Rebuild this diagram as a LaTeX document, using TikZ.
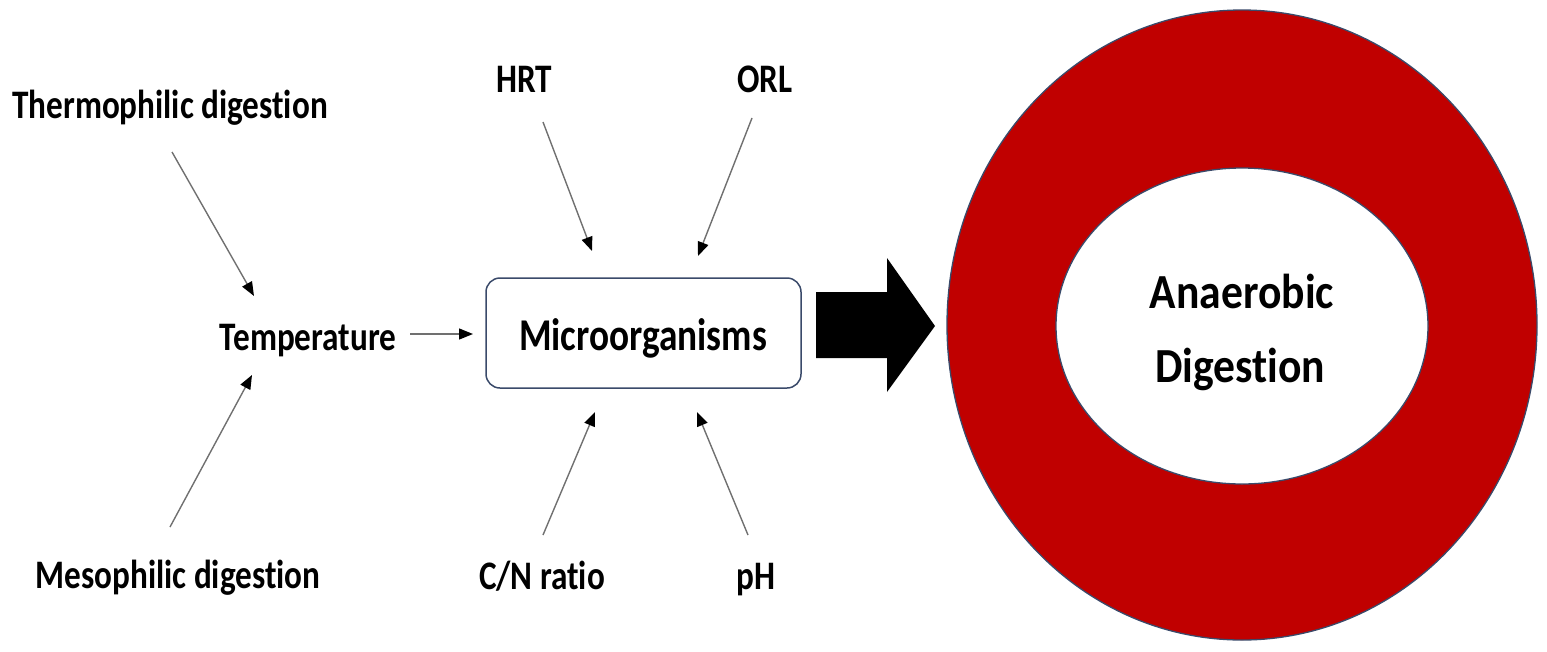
\documentclass[tikz,border=0pt]{standalone}
\usepackage{fontspec}
\newfontfamily\lblfont{Carlito}[FakeStretch=0.82, RawFeature={-liga;-clig;-calt;-dlig}]
\newfontfamily\bigfont{Carlito}[FakeStretch=0.89, RawFeature={-liga;-clig;-calt;-dlig}]
\usetikzlibrary{arrows.meta}
\definecolor{ringred}{HTML}{C00000}
\definecolor{edgeblue}{HTML}{3A4A6A}
\definecolor{linegray}{HTML}{707070}
\tikzset{
  lbl/.style={anchor=base, inner sep=0pt, font=\lblfont\bfseries\fontsize{40.5}{46}\selectfont},
  microbox/.style={draw=edgeblue, line width=1.5pt, rounded corners=14pt, fill=white},
  conn/.style={draw=linegray, line width=1.4pt, -{Triangle[length=14pt,width=11pt,color=black]}},
  ringedge/.style={draw=edgeblue, line width=1.3pt}
}
\begin{document}
\begin{tikzpicture}[x=1pt,y=-1pt]
\useasboundingbox (0,0) rectangle (1547,651);
% ring
\draw[ringedge, fill=ringred] (1242,325) ellipse [x radius=295, y radius=315];
\draw[ringedge, fill=white] (1242,326) ellipse [x radius=186, y radius=158];
\node[anchor=base, inner sep=0pt, font=\bigfont\bfseries\fontsize{49}{74}\selectfont] (ad1) at (1242,308) {Anaerobic};
\node[anchor=base, inner sep=0pt, font=\bigfont\bfseries\fontsize{49}{74}\selectfont] (ad2) at (1240,382) {Digestion};
% labels
\node[lbl] (thermo) at (170,118) {Thermophilic digestion};
\node[lbl] (meso) at (178,588) {Mesophilic digestion};
\node[lbl] (temp) at (308,350) {Temperature};
\node[lbl] (hrt) at (524,92) {HRT};
\node[lbl] (orl) at (765,92) {ORL};
\node[lbl] (cn) at (542,589) {C/N ratio};
\node[lbl] (ph) at (756,589) {pH};
% box
\path[microbox] (486,278) rectangle (801,388);
\node[lbl, font=\lblfont\bfseries\fontsize{45.5}{50}\selectfont] (micro) at (643,350) {Microorganisms};
% big arrow
\fill[black] (816,292) -- (887,292) -- (887,258) -- (935,326) -- (887,392) -- (887,358) -- (816,358) -- cycle;
% connector end points
\coordinate (t1) at (172,152); \coordinate (t2) at (254,296);
\coordinate (m1) at (170,527); \coordinate (m2) at (252,375);
\coordinate (p1) at (410,334); \coordinate (p2) at (473,334);
\coordinate (h1) at (543,122); \coordinate (h2) at (592,251);
\coordinate (o1) at (752,118); \coordinate (o2) at (698,256);
\coordinate (c1) at (543,535); \coordinate (c2) at (595,412);
\coordinate (q1) at (748,535); \coordinate (q2) at (697,412);
\draw[conn] (t1) -- (t2);
\draw[conn] (m1) -- (m2);
\draw[conn] (p1) -- (p2);
\draw[conn] (h1) -- (h2);
\draw[conn] (o1) -- (o2);
\draw[conn] (c1) -- (c2);
\draw[conn] (q1) -- (q2);
\end{tikzpicture}
\end{document}
